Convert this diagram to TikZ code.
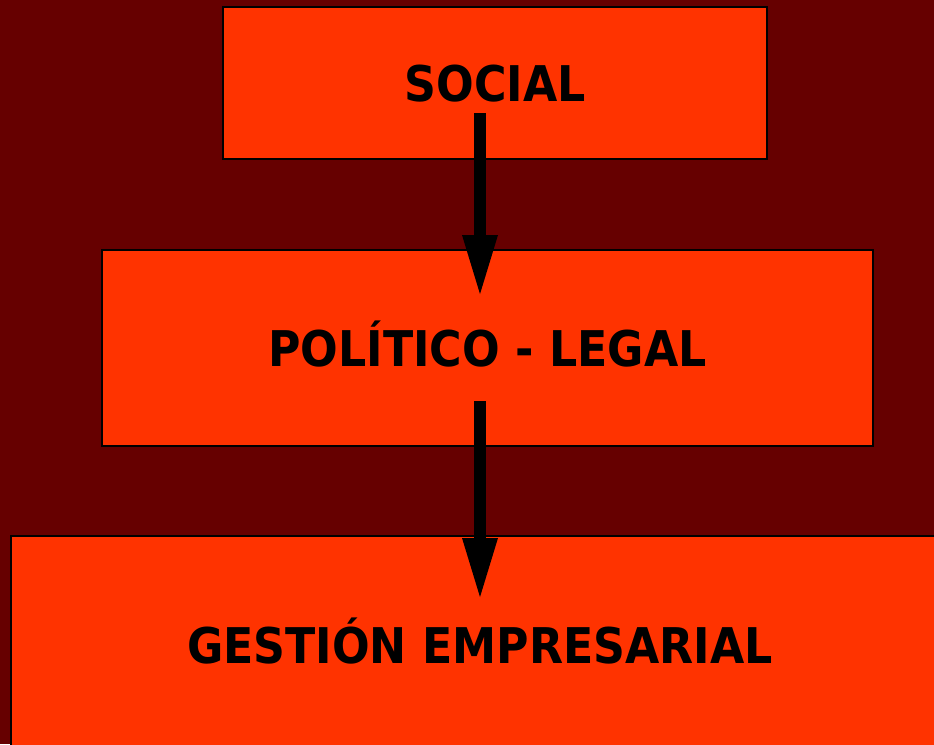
\documentclass[tikz,border=0pt]{standalone}
\usepackage{fontspec}
\newfontfamily\boxfont{DejaVu Sans}[FakeStretch=0.9]
\usepackage{tikz}
\usetikzlibrary {arrows.meta}
\definecolor{fondo}{RGB}{102,0,0}
\definecolor{caja}{RGB}{255,51,0}

\begin{document}
\begin{tikzpicture}[
    caja/.style={draw=black,line width=1.1pt,fill=caja,rectangle,inner sep=0pt,
      text height=0.72cm,text depth=0pt,
      font=\boxfont\bfseries\fontsize{28}{32}\selectfont},
    flecha/.style={line width=0.24cm,-{Triangle[length=1.18cm,width=0.72cm,line width=0pt]}}]
        \fill[fondo] (0,0) rectangle (18.68,-14.88);%fondo
        \useasboundingbox (0,0) rectangle (18.68,-14.88);
        \clip (0,0) rectangle (18.68,-14.88);

        \node[caja,minimum width=10.88cm,minimum height=3.04cm] (social) at (9.9,-1.66) {SOCIAL};
        \node[caja,minimum width=15.42cm,minimum height=3.92cm] (politico) at (9.75,-6.96) {POLÍTICO - LEGAL};
        \node[caja,minimum width=18.76cm,minimum height=4.36cm] (gestion) at (9.6,-12.9) {GESTIÓN EMPRESARIAL};

       \coordinate (a1) at (9.6,-2.26);
       \coordinate (b1) at (9.6,-5.88);
       \coordinate (a2) at (9.6,-8.02);
       \coordinate (b2) at (9.6,-11.94);

        \draw[flecha](a1)--(b1);%social -> politico
        \draw[flecha](a2)--(b2);%politico -> gestion
      \end{tikzpicture}
\end{document}
